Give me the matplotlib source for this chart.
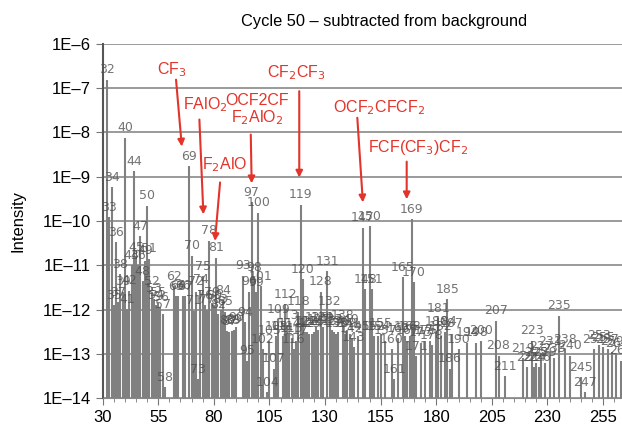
import numpy as np
import matplotlib.pyplot as plt

# mass (m/z) and log10 intensity
mass = [32, 33, 34, 35, 36, 37, 38, 39, 40, 41, 42, 43, 44, 45, 46, 47, 48, 49, 50,
        51, 52, 53, 54, 55, 56, 57, 58, 62, 63, 64, 66, 67, 69, 70, 71, 72, 73, 74,
        75, 76, 77, 78, 79, 80, 81, 82, 83, 84, 85, 86, 87, 88, 89, 90, 93, 94, 95,
        96, 97, 98, 99, 100, 101, 102, 104, 105, 107, 108, 109, 111, 112, 113, 114,
        115, 116, 117, 118, 119, 120, 121, 122, 123, 124, 125, 126, 127, 128, 129,
        131, 132, 133, 134, 135, 136, 138, 139, 140, 141, 142, 143, 145, 147, 148,
        150, 151, 152, 154, 155, 157, 160, 161, 163, 165, 166, 167, 168, 169, 170,
        171, 173, 175, 177, 178, 180, 181, 182, 184, 185, 186, 187, 190, 194, 198,
        200, 207, 208, 211, 219, 221, 223, 224, 225, 226, 227, 229, 231, 233, 235,
        238, 240, 245, 247, 251, 253, 255, 257, 259, 261, 263]
log_int = [-6.81, -9.92, -9.24, -11.9, -10.48, -11.83, -11.2, -11.6, -8.12, -11.99,
           -11.58, -11.0, -8.88, -10.82, -11.0, -10.34, -11.36, -10.9, -9.66,
           -10.85, -11.6, -11.75, -11.9, -11.85, -11.95, -12.1, -13.75, -11.47,
           -11.7, -11.69, -11.69, -11.7, -8.76, -10.79, -12.03, -11.6, -13.57,
           -11.55, -11.25, -11.9, -12.0, -10.45, -11.85, -11.9, -10.83, -12.1,
           -12.0, -11.8, -12.05, -12.48, -12.5, -12.48, -12.45, -12.4, -11.24,
           -12.28, -13.16, -11.6, -9.58, -11.27, -11.61, -9.81, -11.47, -12.89,
           -13.86, -12.7, -13.34, -12.6, -12.22, -12.6, -11.88, -12.35, -12.55,
           -12.65, -12.9, -12.7, -12.05, -9.63, -11.32, -12.5, -12.5, -12.55,
           -12.55, -12.5, -12.4, -12.45, -11.6, -12.4, -11.13, -12.05, -12.45,
           -12.5, -12.55, -12.5, -12.35, -12.55, -12.45, -12.55, -12.65, -12.85,
           -12.6, -10.15, -11.54, -10.12, -11.54, -12.6, -12.6, -12.55, -12.7,
           -12.9, -13.57, -12.65, -11.27, -12.6, -12.7, -12.6, -9.96, -11.38,
           -13.05, -12.75, -12.7, -12.7, -12.8, -12.5, -12.2, -12.6, -12.5, -11.77,
           -13.34, -12.55, -12.9, -12.75, -12.75, -12.7, -12.25, -13.04, -13.5,
           -13.1, -13.3, -12.7, -13.3, -13.2, -13.3, -13.05, -13.2, -12.95, -13.1,
           -12.14, -12.9, -13.04, -13.53, -13.87, -12.9, -12.8, -12.85, -12.9,
           -12.95, -13.0, -13.15]
intensity = 10.0 ** np.array(log_int)

# fragment annotations: text, text position (m/z, log I), arrow start, arrow tip
frag_text = ['CF$_3$', 'FAlO$_2$', 'F$_2$AlO', 'OCF2CF\nF$_2$AlO$_2$', 'CF$_2$CF$_3$',
             'OCF$_2$CFCF$_2$', 'FCF(CF$_3$)CF$_2$']
frag_pos = [(61.2, -6.59), (76.0, -7.37), (85.0, -8.72), (99.6, -7.5), (117.0, -6.65),
            (154.3, -7.44), (171.8, -8.34)]
arrow_from = [(63.0, -6.81), (73.5, -7.71), (82.8, -9.13), (96.6, -8.05), (118.4, -7.07),
              (144.5, -7.67), (166.7, -8.66)]
arrow_to = [(65.6, -8.32), (75.3, -9.85), (80.5, -10.45), (97.0, -9.15), (118.4, -9.02),
            (147.0, -9.58), (166.7, -9.51)]

xticks = [30, 55, 80, 105, 130, 155, 180, 205, 230, 255]
yexp = list(range(-14, -5))

plt.rcParams['font.family'] = ['Liberation Sans', 'DejaVu Sans']
fig = plt.figure(figsize=(6.22, 4.25), dpi=100)
ax = fig.add_axes([0.165, 0.063, 0.835, 0.834])

red = '#e3342b'
ax.set_yscale('log')
ax.set_ylim(1e-14, 1e-6)
ax.set_xlim(30, 263.5)

for e in yexp:
    ax.axhline(10.0 ** e, color='#9a9a9a', lw=1.4, zorder=0)

ax.vlines(mass, 1e-14, intensity, color='#808080', lw=1.5, zorder=2)
for m, v in zip(mass, intensity):
    ax.text(m, v * 1.2, str(m), ha='center', va='bottom', fontsize=9,
            family='DejaVu Sans', color='#505050', alpha=0.8, zorder=3)

for t, p, a, b in zip(frag_text, frag_pos, arrow_from, arrow_to):
    ax.text(p[0], 10.0 ** p[1], t, ha='center', va='center', fontsize=11.5,
            color=red, linespacing=1.0, zorder=4)
    ax.annotate('', xy=(b[0], 10.0 ** b[1]), xytext=(a[0], 10.0 ** a[1]),
                arrowprops=dict(arrowstyle='-|>', color=red, lw=1.5,
                                mutation_scale=10, shrinkA=0, shrinkB=0), zorder=4)

ax.set_xticks(xticks)
ax.set_xticks(np.arange(30, 264, 5), minor=True)
ax.set_yticks([10.0 ** e for e in yexp])
ax.set_yticklabels(['1E\u2013%d' % -e for e in yexp])
ax.yaxis.set_minor_locator(plt.NullLocator())
ax.tick_params(axis='both', labelsize=12, color='#777777', length=5)
ax.tick_params(axis='x', which='minor', length=3, color='#777777')

ax.spines['right'].set_visible(False)
ax.spines['top'].set_visible(False)
ax.spines['left'].set_color('#555555')
ax.spines['left'].set_linewidth(1.5)
ax.spines['bottom'].set_color('#888888')

ax.set_ylabel('Intensity', fontsize=12, labelpad=12)
ax.set_title('Cycle 50 \u2013 subtracted from background', fontsize=11.8, pad=13, x=0.541)

fig.savefig('out.png', dpi=100)
